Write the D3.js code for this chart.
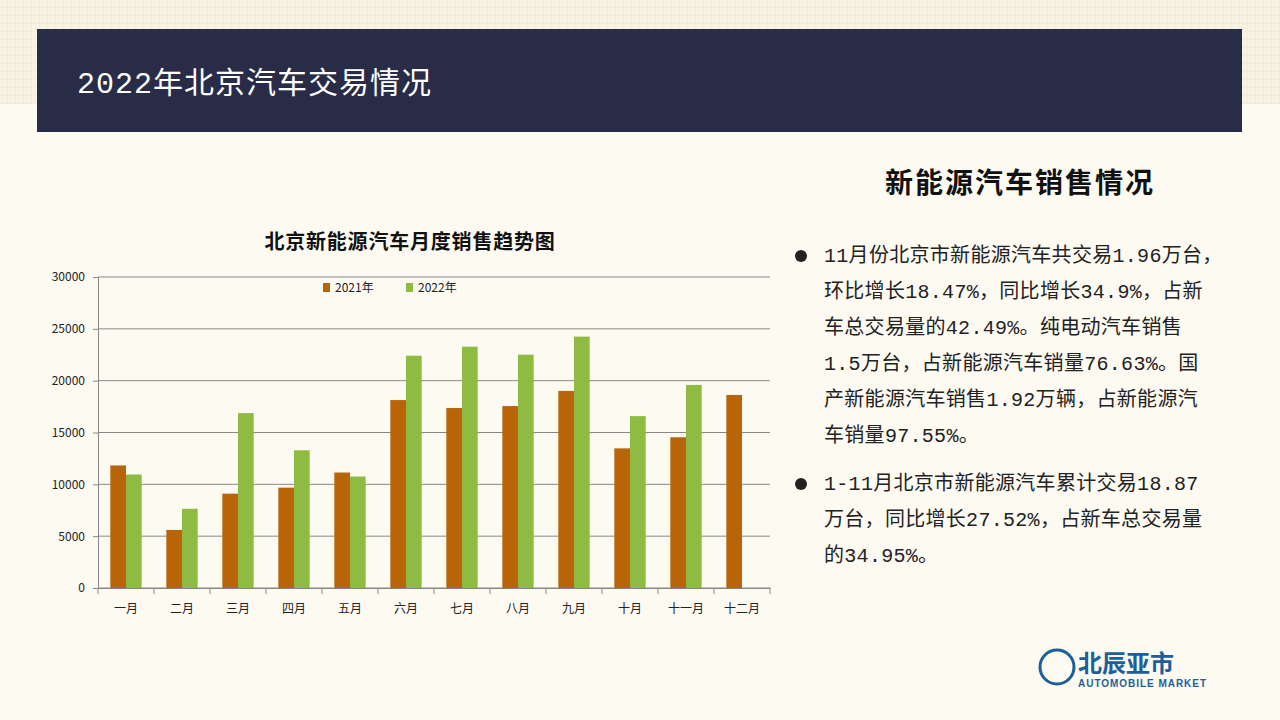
<!DOCTYPE html>
<html><head><meta charset="utf-8">
<script src="https://cdn.jsdelivr.net/npm/d3@7"></script>
<style>body{margin:0;background:#fdfaf2;}svg{display:block}</style>
</head><body><svg id="c" width="1280" height="720"></svg>
<script>
const months=["一月","二月","三月","四月","五月","六月","七月","八月","九月","十月","十一月","十二月"];
const s2021=[11820,5600,9100,9680,11140,18130,17360,17550,19010,13470,14540,18620];
const s2022=[10950,7640,16870,13280,10750,22410,23280,22510,24250,16580,19590,null];
const seriesNames=["2021年","2022年"];
const colors=["#b8650a","#8fbb43"];
const yTicks=[0,5000,10000,15000,20000,25000,30000];
const para1=["11月份北京市新能源汽车共交易1.96万台，","环比增长18.47%，同比增长34.9%，占新","车总交易量的42.49%。纯电动汽车销售","1.5万台，占新能源汽车销量76.63%。国","产新能源汽车销售1.92万辆，占新能源汽","车销量97.55%。"];
const para2=["1-11月北京市新能源汽车累计交易18.87","万台，同比增长27.52%，占新车总交易量","的34.95%。"];

const svg=d3.select("#c");
const defs=svg.append("defs");
const pat=defs.append("pattern").attr("id","grid").attr("width",8).attr("height",8).attr("patternUnits","userSpaceOnUse");
pat.append("rect").attr("width",8).attr("height",8).attr("fill","#f8f2e4");
pat.append("path").attr("d","M8 0V8M0 8H8").attr("stroke","#e8dfcc").attr("stroke-width",0.7);
svg.append("rect").attr("width",1280).attr("height",720).attr("fill","#fdfaf2");
svg.append("rect").attr("width",1280).attr("height",104).attr("fill","url(#grid)");
svg.append("rect").attr("x",37).attr("y",29).attr("width",1205).attr("height",103).attr("fill","#282c47");
svg.append("text").attr("x",77).attr("y",93).attr("fill","#fff").attr("font-size",30).attr("letter-spacing",1)
  .attr("font-family","'Liberation Mono','Noto Sans CJK SC',monospace").text("2022年北京汽车交易情况");

const L=98,R=770,T=277,B=588;
const x=d3.scaleBand().domain(months).range([L,R]);
const y=d3.scaleLinear().domain([0,30000]).range([B,T]);
const g=svg.append("g");
g.selectAll(".gl").data(yTicks).join("line").attr("x1",L).attr("x2",R).attr("y1",d=>y(d)).attr("y2",d=>y(d)).attr("stroke","#888").attr("stroke-width",1);
const ya=g.append("g").attr("transform",`translate(${L},0)`).call(d3.axisLeft(y).tickValues(yTicks).tickSize(5).tickPadding(8).tickFormat(d3.format("d")));
const xa=g.append("g").attr("transform",`translate(0,${B})`).call(d3.axisBottom(x).tickSize(0).tickPadding(16));
xa.selectAll(".tick").append("line").attr("x1",-x.bandwidth()/2).attr("x2",-x.bandwidth()/2).attr("y2",6).attr("stroke","#888");
xa.append("line").attr("x1",R).attr("x2",R).attr("y2",6).attr("stroke","#888");
[ya,xa].forEach(a=>{a.selectAll("path.domain,.tick line").attr("stroke","#888");a.selectAll("text").attr("fill","#222").attr("font-size",12).attr("font-family","'Noto Sans CJK SC',sans-serif");});
const bw=x.bandwidth()*0.28;
[s2021,s2022].forEach((s,i)=>{
  g.selectAll(".b"+i).data(months.map((m,j)=>({m,v:s[j]})).filter(d=>d.v!=null)).join("rect")
   .attr("x",d=>x(d.m)+x.bandwidth()*0.22+i*bw).attr("width",bw)
   .attr("y",d=>y(d.v)).attr("height",d=>B-y(d.v)).attr("fill",colors[i]);
});
svg.append("text").attr("x",410).attr("y",249).attr("text-anchor","middle").attr("font-size",20).attr("font-weight","bold").attr("letter-spacing",0.8)
  .attr("font-family","'Noto Sans CJK SC',sans-serif").attr("fill","#111").text("北京新能源汽车月度销售趋势图");
seriesNames.forEach((n,i)=>{
  const lx=323+i*83;
  svg.append("rect").attr("x",lx).attr("y",283).attr("width",7).attr("height",9).attr("fill",colors[i]);
  svg.append("text").attr("x",lx+12).attr("y",292).attr("font-size",12).attr("font-family","'Noto Sans CJK SC',sans-serif").attr("fill","#222").text(n);
});

svg.append("text").attr("x",1020).attr("y",193).attr("text-anchor","middle").attr("font-size",28).attr("font-weight","bold").attr("letter-spacing",2)
  .attr("font-family","'Noto Sans CJK SC',sans-serif").attr("fill","#111").text("新能源汽车销售情况");
const tf="'Liberation Mono','Noto Sans CJK SC',monospace";
function para(lines,y0){
  svg.append("circle").attr("cx",801).attr("cy",y0-6).attr("r",6).attr("fill","#222");
  lines.forEach((l,i)=>svg.append("text").attr("x",824).attr("y",y0+i*36).attr("font-size",20).attr("letter-spacing",0.3).attr("font-family",tf).attr("fill","#222").text(l));
}
para(para1,262);
para(para2,490);
const lg=svg.append("g");
lg.append("circle").attr("cx",1057).attr("cy",667).attr("r",17).attr("fill","none").attr("stroke","#1c5f9a").attr("stroke-width",3);
lg.append("text").attr("x",1078).attr("y",672).attr("font-size",24).attr("font-weight","bold").attr("font-family","'Noto Sans CJK SC',sans-serif").attr("fill","#1c5f9a").text("北辰亚市");
lg.append("text").attr("x",1078).attr("y",687).attr("font-size",10).attr("font-weight","bold").attr("font-family","'Liberation Sans',sans-serif").attr("fill","#1c5f9a").attr("textLength",128).text("AUTOMOBILE MARKET");
</script></body></html>
